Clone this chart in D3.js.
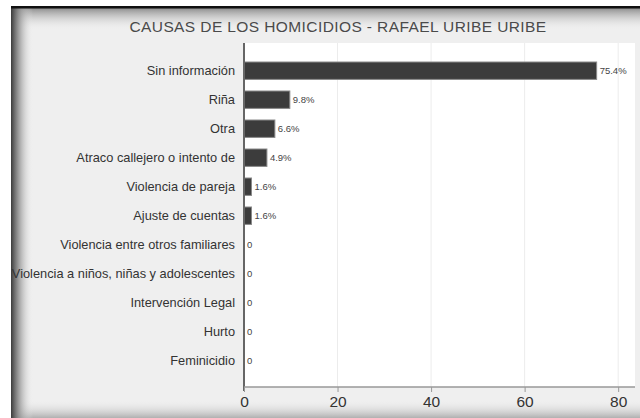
<!DOCTYPE html>
<html>
<head>
<meta charset="utf-8">
<script src="https://cdn.jsdelivr.net/npm/d3@7"></script>
<style>
html,body{margin:0;padding:0;background:#fff;}
svg{display:block;}
text{font-family:"Liberation Sans",Arial,sans-serif;}
</style>
</head>
<body>
<svg id="chart" width="640" height="418"></svg>
<script>
const title = "CAUSAS DE LOS HOMICIDIOS - RAFAEL URIBE URIBE";
const categories = ["Sin información","Riña","Otra","Atraco callejero o intento de","Violencia de pareja","Ajuste de cuentas","Violencia entre otros familiares","Violencia a niños, niñas y adolescentes","Intervención Legal","Hurto","Feminicidio"];
const values = [75.4, 9.8, 6.6, 4.9, 1.6, 1.6, 0, 0, 0, 0, 0];
const valueLabels = ["75.4%","9.8%","6.6%","4.9%","1.6%","1.6%","0","0","0","0","0"];
const xTicks = [0, 20, 40, 60, 80];

(function(){
const svg = d3.select("#chart");
const defs = svg.append("defs");

function grad(id, x1,y1,x2,y2, stops){
  const g = defs.append("linearGradient").attr("id",id)
    .attr("x1",x1).attr("y1",y1).attr("x2",x2).attr("y2",y2);
  stops.forEach(s=>g.append("stop").attr("offset",s[0]).attr("stop-color",s[1]).attr("stop-opacity",s[2]));
}
grad("gLeft","0","0","1","0",[[0,"#3a3a3a",1],[0.35,"#8a8a8a",0.8],[1,"#efefef",0]]);
grad("gTop","0","0","0","1",[[0,"#8c8c8c",1],[1,"#efefef",0]]);
grad("gBot","0","0","0","1",[[0,"#efefef",0],[1,"#b0b0b0",1]]);

// panel
svg.append("rect").attr("x",11).attr("y",6).attr("width",629).attr("height",412).attr("fill","#efefef");
svg.append("rect").attr("x",11).attr("y",8).attr("width",629).attr("height",22).attr("fill","url(#gTop)");
svg.append("rect").attr("x",11).attr("y",400).attr("width",629).attr("height",18).attr("fill","url(#gBot)");
svg.append("rect").attr("x",11).attr("y",6).attr("width",22).attr("height",412).attr("fill","url(#gLeft)");
svg.append("rect").attr("x",11).attr("y",6).attr("width",629).attr("height",2.5).attr("fill","#111");

const pL = 244, pR = 635, pT = 43, pB = 387;
const x = d3.scaleLinear().domain([0, 83.6]).range([pL, pR]);
const y = d3.scaleBand().domain(categories).range([56.2, 375.2]).paddingInner(0.4).paddingOuter(0.2);

// plot background
svg.append("rect").attr("x",pL).attr("y",pT).attr("width",pR-pL).attr("height",pB-pT).attr("fill","#fff");

// grid
svg.append("g").selectAll("line").data(xTicks.slice(1)).join("line")
  .attr("x1",d=>x(d)).attr("x2",d=>x(d)).attr("y1",pT).attr("y2",pB)
  .attr("stroke","#ececec").attr("stroke-width",1);

// title
svg.append("text").attr("x",338).attr("y",32).attr("text-anchor","middle")
  .attr("font-size",15.5).attr("letter-spacing",0.4).attr("fill","#4a4a4a").text(title);

// bars
svg.append("g").selectAll("rect").data(values).join("rect")
  .attr("x",x(0)).attr("y",(d,i)=>y(categories[i]))
  .attr("width",d=>Math.max(0,x(d)-x(0))).attr("height",y.bandwidth())
  .attr("fill",d=>d>0?"#3c3c3c":"none")
  .attr("stroke",d=>d>0?"#8a8a8a":"none").attr("stroke-width",1);

// value labels
svg.append("g").selectAll("text").data(values).join("text")
  .attr("x",d=>x(d)+3).attr("y",(d,i)=>y(categories[i])+y.bandwidth()/2)
  .attr("dy","0.35em").attr("font-size",9.5).attr("fill","#444")
  .text((d,i)=>valueLabels[i]);

// y axis
const yAxis = d3.axisLeft(y).tickSize(0).tickPadding(9);
const gy = svg.append("g").attr("transform",`translate(${pL},0)`).call(yAxis);
gy.select(".domain").remove();
gy.selectAll("text").attr("font-size",12.8).attr("fill","#333").attr("font-family","Liberation Sans, Arial, sans-serif");
svg.append("line").attr("x1",pL).attr("x2",pL).attr("y1",pT).attr("y2",pB+4)
  .attr("stroke","#666").attr("stroke-width",2);

// x axis
const xAxis = d3.axisBottom(x).tickValues(xTicks).tickSize(5).tickPadding(4).tickFormat(d3.format("d"));
const gx = svg.append("g").attr("transform",`translate(0,${pB})`).call(xAxis);
gx.select(".domain").attr("stroke","#999").attr("stroke-width",1.5).attr("d",`M${pL},0H${pR}`);
gx.selectAll(".tick line").attr("stroke","#999");
gx.selectAll("text").attr("font-size",15.5).attr("fill","#333").attr("font-family","Liberation Sans, Arial, sans-serif");
})();
</script>
</body>
</html>
